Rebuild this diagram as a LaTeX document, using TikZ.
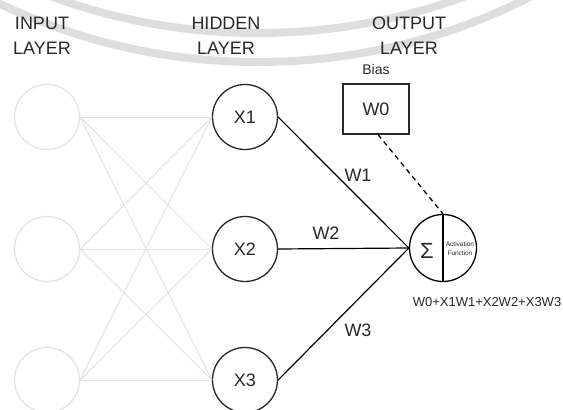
\documentclass[tikz,border=0pt]{standalone}
\usepackage{fontspec}
\setmainfont{Liberation Sans}
\definecolor{InkGray}{RGB}{40,40,40}
\definecolor{FadedGray}{RGB}{226,226,226}
\definecolor{SealGray}{RGB}{222,222,222}
\usetikzlibrary{positioning}

\begin{document}
\begin{tikzpicture}[x=1pt, y=-1pt,
    neuron/.style={circle, draw=InkGray, line width=1.3pt, minimum size=65pt,
                   inner sep=0pt, text=InkGray, font=\fontsize{18}{20}\selectfont},
    ghost/.style={circle, draw=FadedGray, line width=1.2pt, minimum size=65pt, inner sep=0pt},
    heading/.style={align=center, text=InkGray, font=\fontsize{18}{25}\selectfont},
    weight/.style={text=InkGray, font=\fontsize{18}{20}\selectfont},
    link/.style={draw=black, line width=1.2pt},
    faint/.style={draw=FadedGray, line width=1pt}]
  \useasboundingbox (0,0) rectangle (563,410);

  % seal arcs in the background
  \begin{scope}
    \clip (0,0) rectangle (563,410);
    \draw[SealGray, line width=8pt] (258,-567) circle[radius=600];
    \draw[SealGray, line width=8pt] (258,-538) circle[radius=600];
  \end{scope}

  % layer titles
  \node[heading] (tin)  at (42,36)  {INPUT\\LAYER};
  \node[heading] (thid) at (226,36) {HIDDEN\\LAYER};
  \node[heading] (tout) at (409,36) {OUTPUT\\LAYER};

  % input and hidden neurons
  \foreach \i/\y in {1/117, 2/249, 3/380} {
    \node[ghost]  (in\i) at (47,\y)  {};
    \node[neuron] (x\i)  at (245,\y) {X\i};
  }
  \foreach \i in {1,2,3}
    \foreach \j in {1,2,3}
      \draw[faint] (in\i.east) -- (x\j.west);

  % summation unit
  \node[circle, draw=black, line width=1.3pt, minimum size=67pt, inner sep=0pt] (sum) at (443,248) {};
  \draw[link] (sum.north) -- (sum.south);
  \node[text=InkGray, inner sep=1pt, font=\fontsize{22}{24}\selectfont] (sigma) at (427,251) {Σ};
  \node[text=InkGray, align=center, inner sep=0pt, font=\fontsize{6.5}{9}\selectfont] (act) at (460,249) {Activation\\Function};

  % bias
  \node[draw=InkGray, line width=1.2pt, minimum width=66pt, minimum height=50pt,
        text=InkGray, font=\fontsize{18}{20}\selectfont] (bias) at (376,109) {W0};
  \node[text=InkGray, font=\fontsize{14}{16}\selectfont] (biaslbl) at (376,69) {Bias};
  \draw[line width=1.3pt, dash pattern=on 5pt off 4pt] ([xshift=2pt]bias.south) -- (sum.north);

  % weighted links
  \draw[link] (x1.east) -- (sum.west);
  \draw[link] (x2.east) -- (sum.west);
  \draw[link] (x3.east) -- (sum.west);
  \node[weight] (w1) at (358,175) {W1};
  \node[weight] (w2) at (326,233) {W2};
  \node[weight] (w3) at (358,330) {W3};

  \node[text=InkGray, font=\fontsize{13}{15}\selectfont] (total) at (487,302) {W0+X1W1+X2W2+X3W3};
\end{tikzpicture}
\end{document}
